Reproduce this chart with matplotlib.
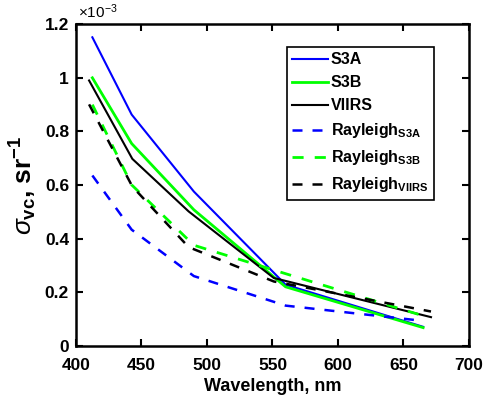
import numpy as np
import matplotlib
matplotlib.use('Agg')
import matplotlib.pyplot as plt
from matplotlib.ticker import FuncFormatter

plt.rcParams['font.family'] = ['Liberation Sans', 'DejaVu Sans']
plt.rcParams['mathtext.fontset'] = 'custom'
plt.rcParams['mathtext.rm'] = 'Liberation Sans'
plt.rcParams['mathtext.bf'] = 'Liberation Sans:bold'
plt.rcParams['mathtext.it'] = 'Liberation Sans:italic'

# 파장 (nm)
wl_s3 = [412.5, 442.5, 490, 560, 665]
wl_viirs = [410, 443, 486, 551, 671]

# 값 (x 1e-3 sr^-1)
s3a = [1.15, 0.862, 0.575, 0.228, 0.071]
s3b = [0.999, 0.754, 0.507, 0.220, 0.068]
viirs = [0.989, 0.697, 0.501, 0.253, 0.107]
ray_s3a = [0.635, 0.433, 0.260, 0.150, 0.093]
ray_s3b = [0.899, 0.600, 0.375, 0.269, 0.112]
ray_viirs = [0.900, 0.594, 0.368, 0.240, 0.128]

fig = plt.figure(figsize=(4.84, 3.98), dpi=100)
ax = fig.add_axes([0.157, 0.131, 0.812, 0.809])

sc = 1e-3
ax.plot(wl_s3, np.array(s3a) * sc, color='#0000ff', lw=1.5, label='S3A')
ax.plot(wl_s3, np.array(s3b) * sc, color='#00ff00', lw=2, label='S3B')
ax.plot(wl_viirs, np.array(viirs) * sc, color='k', lw=1.5, label='VIIRS')
ax.plot(wl_s3, np.array(ray_s3a) * sc, color='#0000ff', lw=1.8, ls=(0, (4, 4)),
        label=r'Rayleigh$_{\mathbf{S3A}}$')
ax.plot(wl_s3, np.array(ray_s3b) * sc, color='#00ff00', lw=2, ls=(0, (4, 4)),
        label=r'Rayleigh$_{\mathbf{S3B}}$')
ax.plot(wl_viirs, np.array(ray_viirs) * sc, color='k', lw=1.8, ls=(0, (4, 4)),
        label=r'Rayleigh$_{\mathbf{VIIRS}}$')

ax.set_xlim(400, 700)
ax.set_ylim(0, 1.2e-3)
ax.set_xticks(np.arange(400, 701, 50))
ax.set_yticks(np.arange(0, 1.21e-3, 0.2e-3))
ax.yaxis.set_major_formatter(FuncFormatter(lambda v, p: '%g' % round(v / sc, 3)))

ax.tick_params(direction='in', top=True, right=True, width=1.5, length=5,
               labelsize=12.5)
ax.tick_params(axis='x', pad=9)
ax.tick_params(axis='y', pad=5)
for lab in ax.get_xticklabels() + ax.get_yticklabels():
    lab.set_fontweight('bold')
for s in ax.spines.values():
    s.set_linewidth(1.8)

ax.text(0.005, 1.008, r'$\times$10$^{-3}$', transform=ax.transAxes,
        fontsize=11, ha='left', va='bottom')

ax.set_xlabel('Wavelength, nm', fontsize=13, fontweight='bold', labelpad=3)
ax.set_ylabel(r'$\sigma_{\mathbf{vc}}$, sr$^{\mathbf{-1}}$', fontsize=19,
              fontweight='bold', labelpad=4)

leg = ax.legend(loc='upper right', bbox_to_anchor=(0.911, 0.929),
                borderaxespad=0, prop={'weight': 'bold', 'size': 11.5},
                handlelength=2.2, handletextpad=0.2, labelspacing=0.5,
                borderpad=0.35, fancybox=False, edgecolor='k', framealpha=1)
leg.get_frame().set_linewidth(1.2)

fig.savefig('out.png', dpi=100)
